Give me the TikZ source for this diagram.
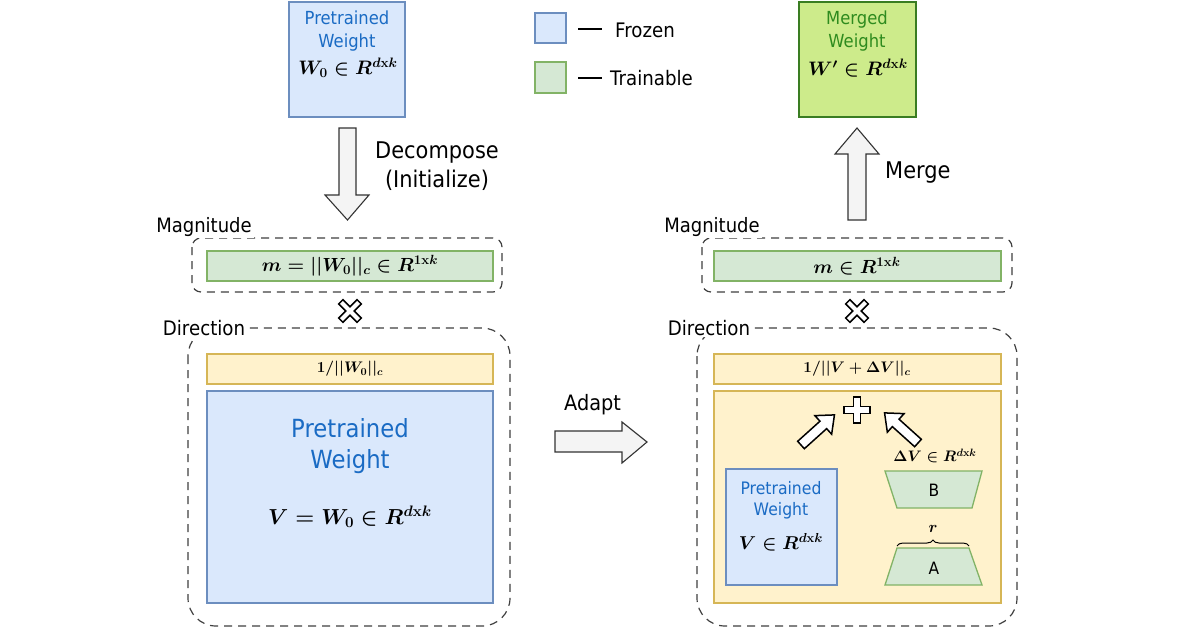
\RequirePackage{fix-cm}
\documentclass[tikz,border=0pt]{standalone}
\usepackage{amsmath}
\usepackage[no-math]{fontspec}
\setmainfont{DejaVu Sans}[FakeStretch=0.91]
\usetikzlibrary{decorations.pathreplacing}
\definecolor{bluefill}{HTML}{DAE8FC}
\definecolor{blueline}{HTML}{6C8EBF}
\definecolor{bluetxt}{HTML}{1A6BC4}
\definecolor{greenfill}{HTML}{D5E8D4}
\definecolor{greenline}{HTML}{82B366}
\definecolor{yelfill}{HTML}{FFF2CC}
\definecolor{yelline}{HTML}{D6B656}
\definecolor{mrgfill}{HTML}{CDEB8B}
\definecolor{mrgline}{HTML}{3A7D22}
\definecolor{mrgtxt}{HTML}{2E8B1E}
\definecolor{arrowfill}{HTML}{F4F4F4}
\newcommand{\fs}[1]{\fontsize{#1}{#1}\selectfont}
\tikzset{
  bluebox/.style={draw=blueline, fill=bluefill, line width=1.3pt},
  greenbox/.style={draw=greenline, fill=greenfill, line width=1.3pt},
  yelbox/.style={draw=yelline, fill=yelfill, line width=1.3pt},
  mrgbox/.style={draw=mrgline, fill=mrgfill, line width=1.6pt},
  dashbox/.style={draw=black!75, line width=1.2pt, dash pattern=on 8pt off 6pt},
  blockarrow/.style={draw=black!80, fill=arrowfill, line width=1.1pt, line join=miter},
  hollow/.style={draw=black, fill=white, line width=1.5pt, line join=miter},
  lbl/.style={inner sep=2pt, fill=white, anchor=base},
  txt/.style={inner sep=0pt, anchor=base},
  mth/.style={inner sep=0pt},
}
\begin{document}
\begin{tikzpicture}[x=1pt,y=-1pt]
\useasboundingbox[fill=white] (0,0) rectangle (1200,630);

% ---------- top left: pretrained weight ----------
\draw[bluebox] (289,2) rectangle (405,117);
\node[txt, text=bluetxt, font=\fs{18}] (pw0a) at (347,24) {Pretrained};
\node[txt, text=bluetxt, font=\fs{18}] (pw0b) at (347,47) {Weight};
\node[mth, font=\fs{19.5}\boldmath] (pw0m) at (348,68) {$W_0 \in R^{d\mathrm{x}k}$};

% decompose arrow
\draw[blockarrow] (339,128) -- (356,128) -- (356,195) -- (369,195) -- (347.5,220) -- (325,195) -- (339,195) -- cycle;
\node[txt, font=\fs{23}] (deca) at (437,158) {Decompose};
\node[txt, font=\fs{23}] (decb) at (437,187) {(Initialize)};

% ---------- legend ----------
\draw[bluebox] (535,13) rectangle (566,43);
\draw[black, line width=2.5pt] (578,29) -- (602,29);
\node[txt, anchor=base west, font=\fs{20}] (lfro) at (615,37) {Frozen};
\draw[greenbox] (535,62) rectangle (566,93);
\draw[black, line width=2.5pt] (578,78) -- (602,78);
\node[txt, anchor=base west, font=\fs{20}] (ltra) at (610,85) {Trainable};

% ---------- top right: merged weight ----------
\draw[mrgbox] (799,2) rectangle (916,117);
\node[txt, text=mrgtxt, font=\fs{18}] (mwa) at (857,24) {Merged};
\node[txt, text=mrgtxt, font=\fs{18}] (mwb) at (857,47) {Weight};
\node[mth, font=\fs{19.5}\boldmath] (mwm) at (858,68) {$W' \in R^{d\mathrm{x}k}$};
\draw[blockarrow] (848,220) -- (866,220) -- (866,154) -- (879,154) -- (857,128) -- (835,154) -- (848,154) -- cycle;
\node[txt, anchor=base west, font=\fs{23}] (mrg) at (885,178) {Merge};

% ---------- left magnitude ----------
\draw[dashbox, rounded corners=9pt] (192,238) rectangle (502,292);
\node[lbl, font=\fs{19.8}] (lmag) at (204,232) {Magnitude};
\draw[greenbox] (207,251) rectangle (493,281);
\node[mth, font=\fs{19}\boldmath] (lmagm) at (350,266) {$m = ||W_0||_c \in R^{1\mathrm{x}k}$};

% times
\draw[hollow, rotate around={45:(350,311)}] (347,298) -- (353,298) -- (353,308) -- (363,308) -- (363,314) -- (353,314) -- (353,324) -- (347,324) -- (347,314) -- (337,314) -- (337,308) -- (347,308) -- cycle;

% ---------- left direction ----------
\draw[dashbox, rounded corners=28pt] (188,328) rectangle (510,626);
\node[lbl, font=\fs{20}] (ldir) at (204,335) {Direction};
\draw[yelbox] (207,354) rectangle (493,384);
\node[mth, font=\fs{15.3}\boldmath] (lnorm) at (350,369) {$1/||W_0||_c$};
\draw[bluebox] (207,391) rectangle (493,603);
\node[txt, text=bluetxt, font=\fs{25}] (lpwa) at (350,437) {Pretrained};
\node[txt, text=bluetxt, font=\fs{25}] (lpwb) at (350,468) {Weight};
\node[mth, font=\fs{21.7}\boldmath] (lpwm) at (350,517) {$V = W_0 \in R^{d\mathrm{x}k}$};

% ---------- adapt arrow ----------
\draw[blockarrow] (555,431) -- (622,431) -- (622,422) -- (647,442) -- (622,463) -- (622,452) -- (555,452) -- cycle;
\node[txt, anchor=base west, font=\fs{21.2}] (adapt) at (564,410) {Adapt};

% ---------- right magnitude ----------
\draw[dashbox, rounded corners=9pt] (702,238) rectangle (1012,292);
\node[lbl, font=\fs{19.8}] (rmag) at (712,232) {Magnitude};
\draw[greenbox] (714,251) rectangle (1001,281);
\node[mth, font=\fs{19}\boldmath] (rmagm) at (857,266) {$m \in R^{1\mathrm{x}k}$};

\draw[hollow, rotate around={45:(857,311)}] (854,298) -- (860,298) -- (860,308) -- (870,308) -- (870,314) -- (860,314) -- (860,324) -- (854,324) -- (854,314) -- (844,314) -- (844,308) -- (854,308) -- cycle;

% ---------- right direction ----------
\draw[dashbox, rounded corners=28pt] (697,328) rectangle (1017,626);
\node[lbl, font=\fs{20}] (rdir) at (709,335) {Direction};
\draw[yelbox] (714,354) rectangle (1001,384);
\node[mth, font=\fs{15.3}\boldmath] (rnorm) at (857,369) {$1/||V + \Delta V||_c$};
\draw[yelbox] (714,391) rectangle (1001,603);

% plus
\draw[hollow] (853.5,397) -- (860.5,397) -- (860.5,406.5) -- (870,406.5) -- (870,413.5) -- (860.5,413.5) -- (860.5,423) -- (853.5,423) -- (853.5,413.5) -- (844,413.5) -- (844,406.5) -- (853.5,406.5) -- cycle;

% hollow arrows
\begin{scope}[shift={(801,445)}, rotate=42]
  \draw[hollow] (0,-5) -- (30,-5) -- (30,-12.5) -- (45,0) -- (30,12.5) -- (30,5) -- (0,5) -- cycle;
\end{scope}
\begin{scope}[shift={(918,443)}, rotate=138]
  \draw[hollow] (0,-5) -- (30,-5) -- (30,-12.5) -- (45,0) -- (30,12.5) -- (30,5) -- (0,5) -- cycle;
\end{scope}

\node[mth, font=\fs{15.2}\boldmath] (dv) at (935,456) {$\Delta V \in R^{d\mathrm{x}k}$};

% B
\draw[greenbox] (885,471) -- (982,471) -- (972,508) -- (897,508) -- cycle;
\node[font=\rmfamily\fs{17}, inner sep=0pt] (bl) at (934,490) {B};
% brace and r
\draw[black, line width=1pt, decorate, decoration={brace, amplitude=6pt}] (897,546) -- (969,546);
\node[mth, font=\fs{16}\boldmath] (rl) at (933,529) {$r$};
% A
\draw[greenbox] (897,548) -- (969,548) -- (982,585) -- (885,585) -- cycle;
\node[font=\rmfamily\fs{17}, inner sep=0pt] (al) at (934,568) {A};

% small pretrained
\draw[bluebox] (726,469) rectangle (837,585);
\node[txt, text=bluetxt, font=\fs{17.2}] (spwa) at (781,494) {Pretrained};
\node[txt, text=bluetxt, font=\fs{17.2}] (spwb) at (781,515) {Weight};
\node[mth, font=\fs{18.6}\boldmath] (spwm) at (781,542) {$V \in R^{d\mathrm{x}k}$};

\end{tikzpicture}
\end{document}
